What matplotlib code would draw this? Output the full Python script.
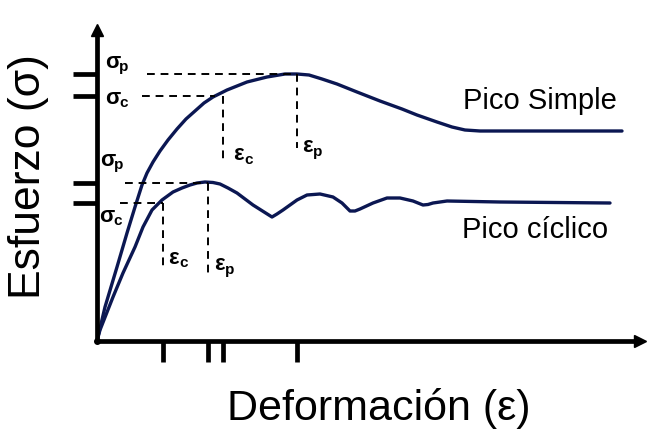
import numpy as np
import matplotlib
matplotlib.use('Agg')
import matplotlib.pyplot as plt

plt.rcParams['font.family'] = ['Liberation Sans', 'DejaVu Sans']

# strain / stress (arbitrary units)
simple_strain = [0, 8, 20, 30, 38, 45, 50, 56, 63, 71, 80, 89, 98, 107, 116, 130, 150, 170,
                 188, 200, 212, 225, 240, 260, 283, 305, 320, 340, 355, 368, 383, 443, 525]
simple_stress = [0, 34, 74, 108, 134, 156, 168, 179, 190, 201, 212, 222, 230, 238, 244,
                 251, 259, 264, 267, 267, 266, 262, 257, 249, 240, 232, 226, 219, 214,
                 211, 210, 210, 210]

cyclic_strain = [0, 3, 16, 26, 38, 46, 55, 65, 76, 85, 93, 100, 108, 116, 123, 131, 140,
                 156, 175, 180, 186, 193, 200, 210, 223, 236, 245, 253, 258, 263, 276,
                 290, 303, 316, 326, 331, 336, 350, 403, 513]
cyclic_stress = [0, 11, 44, 68, 94, 114, 131, 141, 149, 153, 156, 158, 159, 158.5, 157,
                 153, 148, 136, 124, 127, 131, 136, 141, 146, 147, 144, 138, 130, 130,
                 132, 138, 143, 143, 140, 136, 136.5, 138, 140, 139, 138]

# characteristic points: (strain_c, strain_p), (stress_c, stress_p)
simple_eps = [126, 200]
simple_sig = [245, 267]
cyclic_eps = [66, 111]
cyclic_sig = [138, 158]

navy = '#0b1752'

fig = plt.figure(figsize=(6.49, 4.29), dpi=100)
ax = fig.add_axes([0, 0, 1, 1])
ax.set_xlim(-97, 552)
ax.set_ylim(-88, 341)

ax.plot(simple_strain, simple_stress, color=navy, lw=2.4,
        solid_capstyle='round', solid_joinstyle='round')
ax.plot(cyclic_strain, cyclic_stress, color=navy, lw=2.4,
        solid_capstyle='round', solid_joinstyle='round')

dash = dict(color='black', lw=1.4, ls=(0, (4, 3)))
# horizontal guides
ax.plot([50, simple_eps[1]], [simple_sig[1]] * 2, **dash)
ax.plot([45, simple_eps[0] - 8], [simple_sig[0]] * 2, **dash)
ax.plot([28, cyclic_eps[1]], [cyclic_sig[1]] * 2, **dash)
ax.plot([23, cyclic_eps[0]], [cyclic_sig[0]] * 2, **dash)
# vertical guides
ax.plot([simple_eps[0]] * 2, [simple_sig[0], 181], **dash)
ax.plot([simple_eps[1]] * 2, [simple_sig[1], 193], **dash)
ax.plot([cyclic_eps[0]] * 2, [cyclic_sig[0], 74], **dash)
ax.plot([cyclic_eps[1]] * 2, [cyclic_sig[1], 68], **dash)

# axes
for s in ['top', 'right']:
    ax.spines[s].set_visible(False)
ax.spines['left'].set_position(('data', 0))
ax.spines['bottom'].set_position(('data', 0))
ax.spines['left'].set_bounds(0, 308)
ax.spines['bottom'].set_bounds(0, 542)
ax.spines['left'].set_linewidth(3.4)
ax.spines['bottom'].set_linewidth(3.4)
ax.plot([543], [0], marker='>', color='black', ms=9, clip_on=False)
ax.plot([0], [311], marker='^', color='black', ms=9, clip_on=False)
ax.plot([0], [0], marker='o', color='black', ms=4)

ax.set_xticks(cyclic_eps + simple_eps)
ax.set_yticks(cyclic_sig + simple_sig)
ax.tick_params(axis='x', direction='out', length=15, width=3.4, labelbottom=False)
ax.tick_params(axis='y', direction='out', length=17, width=3.4, labelleft=False)

ax.text(-68, 164, 'Esfuerzo (σ)', rotation=90, fontsize=32,
        ha='center', va='center')
ax.text(282, -79, 'Deformación (ε)', fontsize=31, ha='center', va='baseline')
ax.text(366, 232, 'Pico Simple', fontsize=21, va='baseline')
ax.text(365, 103, 'Pico cíclico', fontsize=21, va='baseline')

def sym(x, y, main, sub):
    ax.text(x, y, main, fontsize=16, fontweight='bold', ha='center', va='center')
    ax.text(x + 11, y - 5, sub, fontsize=11, fontweight='bold', ha='center', va='center')

sym(16, 279, 'σ', 'p')
sym(16, 243, 'σ', 'c')
sym(11, 181, 'σ', 'p')
sym(10, 125, 'σ', 'c')
sym(141, 186, 'ε', 'c')
sym(210, 194, 'ε', 'p')
sym(76, 83, 'ε', 'c')
sym(122, 76, 'ε', 'p')

fig.savefig('out.png', dpi=100)
